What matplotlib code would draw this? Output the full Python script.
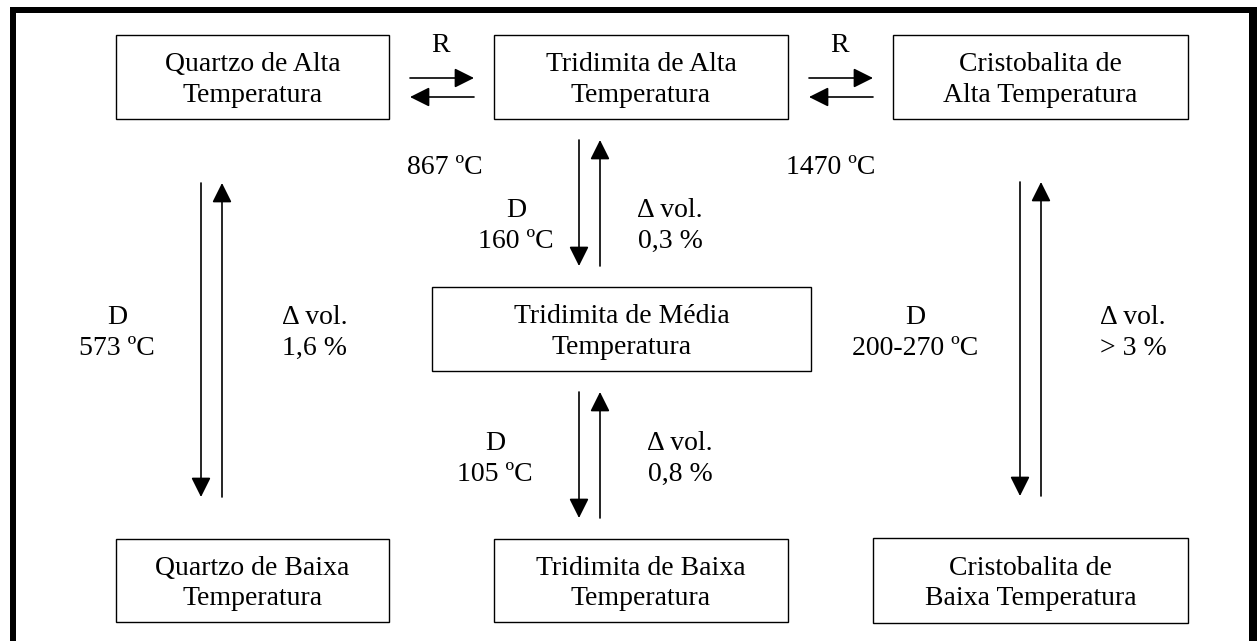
import matplotlib
matplotlib.use("Agg")
import matplotlib.pyplot as plt
from matplotlib.patches import Rectangle

plt.rcParams['font.family'] = ['Liberation Serif', 'DejaVu Serif']

# phases (boxes)
box_labels = ["Quartzo de Alta\nTemperatura",
              "Tridimita de Alta\nTemperatura",
              "Cristobalita de\nAlta Temperatura",
              "Tridimita de Média\nTemperatura",
              "Quartzo de Baixa\nTemperatura",
              "Tridimita de Baixa\nTemperatura",
              "Cristobalita de\nBaixa Temperatura"]
# reconstructive transitions (R)
rec_temps = ["867 ºC", "1470 ºC"]
# displacive transitions (D) and volume change
disp_temps = ["573 ºC", "160 ºC", "105 ºC", "200-270 ºC"]
vol_change = ["1,6 %", "0,3 %", "0,8 %", "> 3 %"]

# layout (pixels)
box_x0 = [116, 494, 893, 432, 116, 494, 873]
box_x1 = [389, 788, 1188, 811, 389, 788, 1188]
box_y0 = [35, 35, 35, 287, 539, 539, 538]
box_y1 = [119, 119, 119, 371, 622, 622, 623]

rec_arrow_x = [(410, 474), (809, 873)]
rec_label_x = [441, 840]
rec_temp_x = [445, 831]

disp_down_x = [201, 579, 579, 1020]
disp_up_x = [222, 600, 600, 1041]
disp_y = [(183, 497), (140, 266), (392, 518), (182, 496)]
disp_label_x = [117, 516, 495, 915]
vol_label_x = [315, 670, 680, 1133]
label_y = [333, 226, 459, 333]

fig = plt.figure(figsize=(12.57, 6.41), dpi=100)
ax = fig.add_axes([0, 0, 1, 1])
ax.set_xlim(0, 1257)
ax.set_ylim(641, 0)
ax.axis('off')

fs = 20
ls = 1.27
head = dict(arrowstyle='-|>,head_length=12,head_width=6', mutation_scale=1,
            color='black', lw=1.2, shrinkA=0, shrinkB=0)

# outer frame
for x, y, w, h in [(10, 7, 6, 640), (10, 7, 1247, 6), (1249, 7, 8, 640)]:
    ax.add_patch(Rectangle((x, y), w, h, facecolor='black', edgecolor='none'))

for lab, x0, x1, y0, y1 in zip(box_labels, box_x0, box_x1, box_y0, box_y1):
    ax.add_patch(Rectangle((x0, y0), x1 - x0, y1 - y0, facecolor='white',
                           edgecolor='black', lw=1.0))
    ax.text((x0 + x1) / 2, (y0 + y1) / 2 + 3, lab, ha='center', va='center',
            fontsize=fs, linespacing=ls)

for (xa, xb), lx, tx, t in zip(rec_arrow_x, rec_label_x, rec_temp_x, rec_temps):
    ax.annotate('', xy=(xb, 78), xytext=(xa, 78), arrowprops=head)
    ax.annotate('', xy=(xa, 97), xytext=(xb, 97), arrowprops=head)
    ax.text(lx, 45, "R", ha='center', va='center', fontsize=fs)
    ax.text(tx, 168, t, ha='center', va='center', fontsize=fs)

for xd, xu, (ya, yb), dx, vx, ly, t, v in zip(disp_down_x, disp_up_x, disp_y,
                                              disp_label_x, vol_label_x, label_y,
                                              disp_temps, vol_change):
    ax.annotate('', xy=(xd, yb), xytext=(xd, ya), arrowprops=head)
    ax.annotate('', xy=(xu, ya), xytext=(xu, yb), arrowprops=head)
    ax.text(dx, ly, "D\n" + t, ha='center', va='center', fontsize=fs,
            linespacing=ls)
    ax.text(vx, ly, "Δ vol.\n" + v, ha='center', va='center', fontsize=fs,
            linespacing=ls)

fig.savefig("out.png", dpi=100)
